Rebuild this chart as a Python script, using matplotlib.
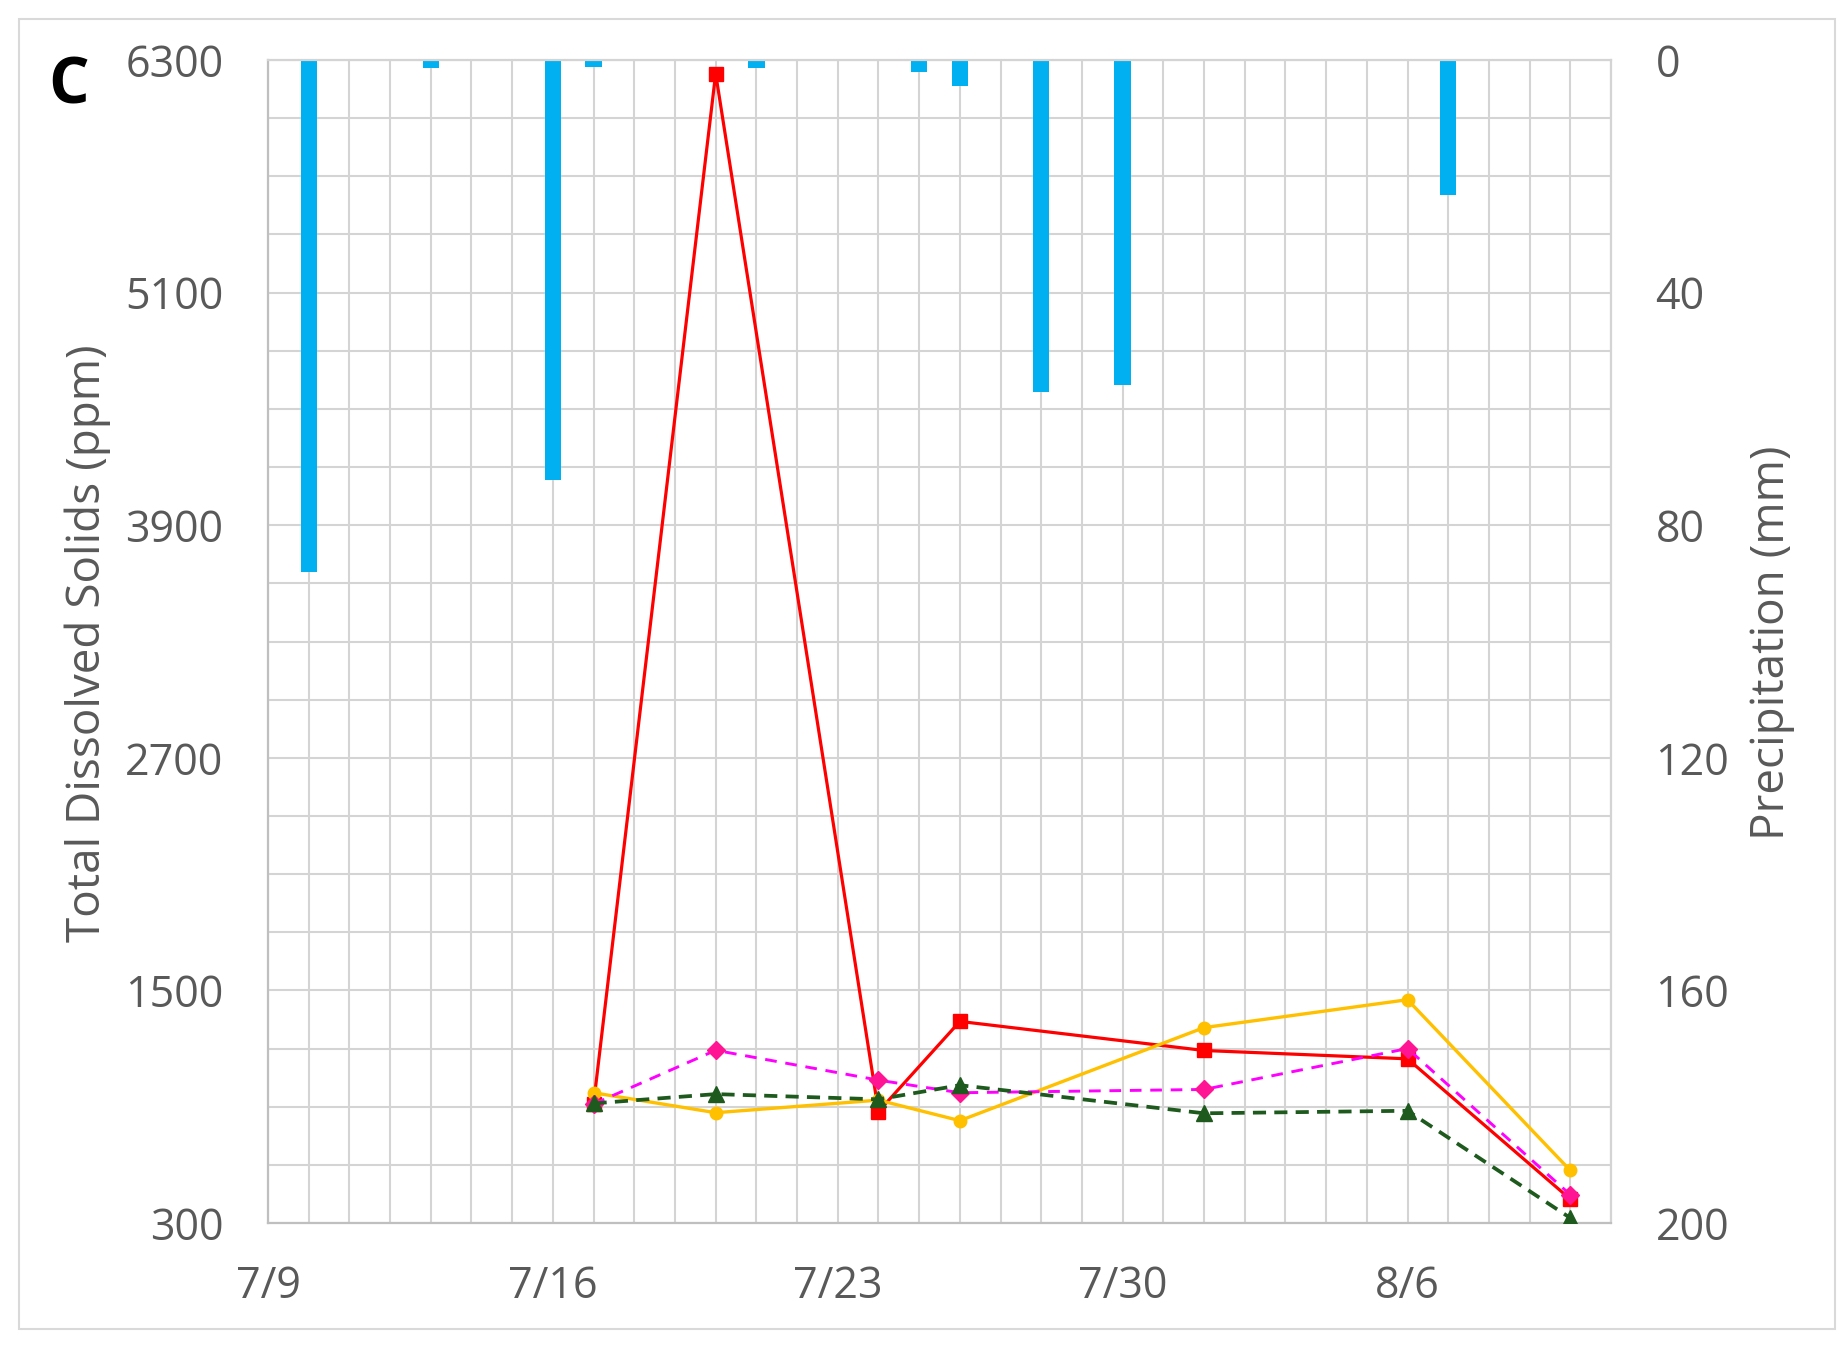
#!/usr/bin/env python3
"""TDS vs precipitation chart (panel C)."""

from datetime import datetime

import matplotlib
matplotlib.use("Agg")
import matplotlib.pyplot as plt
import matplotlib.dates as mdates
from matplotlib.ticker import FixedLocator, MultipleLocator, FuncFormatter
from matplotlib.patches import Rectangle

plt.rcParams["font.family"] = ["Open Sans", "DejaVu Sans"]

# ── data ──────────────────────────────────────────────────────────────────────

# precipitation (mm), bars hanging from the top
rain_dates = ["2019-07-10", "2019-07-13", "2019-07-16", "2019-07-17", "2019-07-21",
              "2019-07-25", "2019-07-26", "2019-07-28", "2019-07-30", "2019-08-07"]
rain_mm = [88.0, 1.3, 72.3, 1.2, 1.3, 2.1, 4.5, 57.1, 55.9, 23.3]

# total dissolved solids (ppm)
tds_dates = ["2019-07-17", "2019-07-20", "2019-07-24", "2019-07-26",
             "2019-08-01", "2019-08-06", "2019-08-10"]
tds_red   = [915, 6230, 875, 1340, 1190, 1147, 423]
tds_gold  = [972, 869, 934, 828, 1308, 1452, 571]
tds_pink  = [914, 1191, 1037, 972, 989, 1200, 446]
tds_green = [917, 965, 938, 1011, 866, 879, 326]

tds_ticks  = [300, 1500, 2700, 3900, 5100, 6300]
rain_ticks = [0, 40, 80, 120, 160, 200]

rain_x = [datetime.fromisoformat(d) for d in rain_dates]
tds_x  = [datetime.fromisoformat(d) for d in tds_dates]

# ── styling ───────────────────────────────────────────────────────────────────

TXT  = "#595959"
GRID = "#D4D4D4"
FS   = 31

fig = plt.figure(figsize=(18.49, 13.64), dpi=100)
rect = [268 / 1849, 1 - 1223 / 1364, (1611 - 268) / 1849, (1223 - 60) / 1364]

# bottom layer: precipitation bars + grid
ax_p = fig.add_axes(rect)
ax = fig.add_axes(rect, sharex=ax_p)
ax.patch.set_visible(False)

ax_p.set_axisbelow(True)
ax_p.bar(rain_x, rain_mm, width=0.4, color="#00B0F0", zorder=2)
ax_p.set_ylim(200, 0)
ax_p.set_xlim(datetime(2019, 7, 9), datetime(2019, 8, 11))

ax_p.xaxis.set_major_locator(mdates.WeekdayLocator(byweekday=mdates.TU))
ax_p.xaxis.set_minor_locator(mdates.DayLocator())
ax_p.xaxis.set_major_formatter(FuncFormatter(
    lambda v, _: f"{mdates.num2date(v).month}/{mdates.num2date(v).day}"))

ax_p.yaxis.tick_right()
ax_p.yaxis.set_major_locator(FixedLocator(rain_ticks))
ax_p.yaxis.set_minor_locator(MultipleLocator(10))

ax_p.grid(which="both", color=GRID, linewidth=1.5)
ax_p.tick_params(which="both", length=0, colors=TXT, labelsize=FS)
ax_p.tick_params(axis="x", pad=30)
ax_p.tick_params(axis="y", pad=32)
for side, sp in ax_p.spines.items():
    sp.set_color("#BFBFBF" if side in ("left", "bottom") else GRID)
    sp.set_linewidth(1.6)

# top layer: TDS lines
ax.plot(tds_x, tds_red, color="#FF0000", lw=2.3, marker="s", ms=10,
        mec="#FF0000", mfc="#FF0000", zorder=3)
ax.plot(tds_x, tds_gold, color="#FFC000", lw=2.4, marker="o", ms=9,
        mec="#FFC000", mfc="#FFC000", zorder=3)
ax.plot(tds_x, tds_pink, color="#FF00FF", lw=2.1, dashes=(4, 3), marker="D",
        ms=9, mec="#FF1493", mfc="#FF1493", zorder=4)
ax.plot(tds_x, tds_green, color="#1E5A1E", lw=2.7, dashes=(3.5, 2.2), marker="^",
        ms=11, mec="#1E5A1E", mfc="#1E5A1E", zorder=5)

ax.set_ylim(300, 6300)
ax.yaxis.set_major_locator(FixedLocator(tds_ticks))
ax.tick_params(axis="y", length=0, colors=TXT, labelsize=FS, pad=32)
ax.xaxis.set_visible(False)
for sp in ax.spines.values():
    sp.set_visible(False)

# axis titles
fig.text(88 / 1849, 1 - 643 / 1364, "Total Dissolved Solids (ppm)", color=TXT,
         fontsize=33, rotation=90, ha="center", va="center")
fig.text(1772 / 1849, 1 - 643 / 1364, "Precipitation (mm)", color=TXT,
         fontsize=33, rotation=90, ha="center", va="center")

# panel letter + outer frame
fig.text(69 / 1849, 1 - 87 / 1364, "C", fontsize=46, fontweight="bold",
         ha="center", va="center", color="black")
fig.patches.append(Rectangle((19 / 1849, 1 - 1329 / 1364), 1816 / 1849, 1310 / 1364,
                             transform=fig.transFigure, fill=False,
                             edgecolor="#D9D9D9", linewidth=1.5))

fig.savefig("out.png", dpi=100, facecolor="white")
plt.close(fig)
